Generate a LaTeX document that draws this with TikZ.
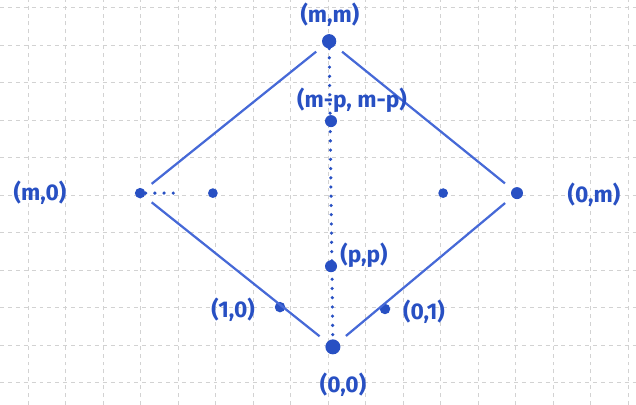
\documentclass[tikz,border=0pt]{standalone}
\usepackage{fontspec}
\newfontfamily\handfont{Fira Sans}
\definecolor{ink}{RGB}{40,80,195}
\definecolor{inkline}{RGB}{70,105,215}
\begin{document}
\begin{tikzpicture}[
	dot/.style={circle,fill=ink,inner sep=0pt,minimum size=#1},
	dot/.default=2.8mm,
	lbl/.style={text=ink,font=\handfont\bfseries\LARGE},
	edgeline/.style={draw=inkline,line width=1.7pt,shorten >=7pt,shorten <=7pt},
	dotline/.style={draw=ink,line width=2.7pt,line cap=round,dash pattern=on 0pt off 7pt}
	]
	
	\def\xmin{-8.747}
	\def\xmax{8.213}
	\def\ymin{-1.6}
	\def\ymax{9.2}
	\useasboundingbox (\xmin,\ymin) rectangle (\xmax,\ymax);
	\draw[gray!35,dashed,line width=.4pt] (\xmin,\ymin) grid (\xmax,\ymax);
	
	\node[dot=4mm] (O) at (0.13,-0.05) {};
	\node[dot=3.8mm] (M) at (0.03,8.1) {};
	\node[dot] (L) at (-5.01,4.05) {};
	\node[dot=3.2mm] (R) at (5.04,4.05) {};
	\node[dot] (A) at (-1.28,1.01) {};
	\node[dot] (B) at (1.52,0.96) {};
	\node[dot=3.2mm] (P) at (0.08,2.1) {};
	\node[dot=3.2mm] (Q) at (0.08,5.97) {};
	\node[dot=2.6mm] (L1) at (-3.07,4.05) {};
	\node[dot=2.6mm] (R1) at (3.07,4.05) {};
	\coordinate (Lend) at (-3.95,4.05);
	
	\draw[edgeline] (L)--(M);
	\draw[edgeline] (M)--(R);
	\draw[edgeline] (L)--(O);
	\draw[edgeline] (R)--(O);
	\draw[dotline] (M)--(O);
	\draw[dotline] (L)--(Lend);
	
	\node[lbl] (lM) at (0.05,8.8) {(m,m)};
	\node[lbl] (lQ) at (0.64,6.53) {(m-p, m-p)};
	\node[lbl] (lL) at (-7.68,4.05) {(m,0)};
	\node[lbl] (lR) at (7.09,4.0) {(0,m)};
	\node[lbl] (lP) at (0.96,2.4) {(p,p)};
	\node[lbl] (lA) at (-2.53,0.93) {(1,0)};
	\node[lbl] (lB) at (2.56,0.88) {(0,1)};
	\node[lbl] (lO) at (0.4,-1.07) {(0,0)};
	
\end{tikzpicture}
\end{document}
